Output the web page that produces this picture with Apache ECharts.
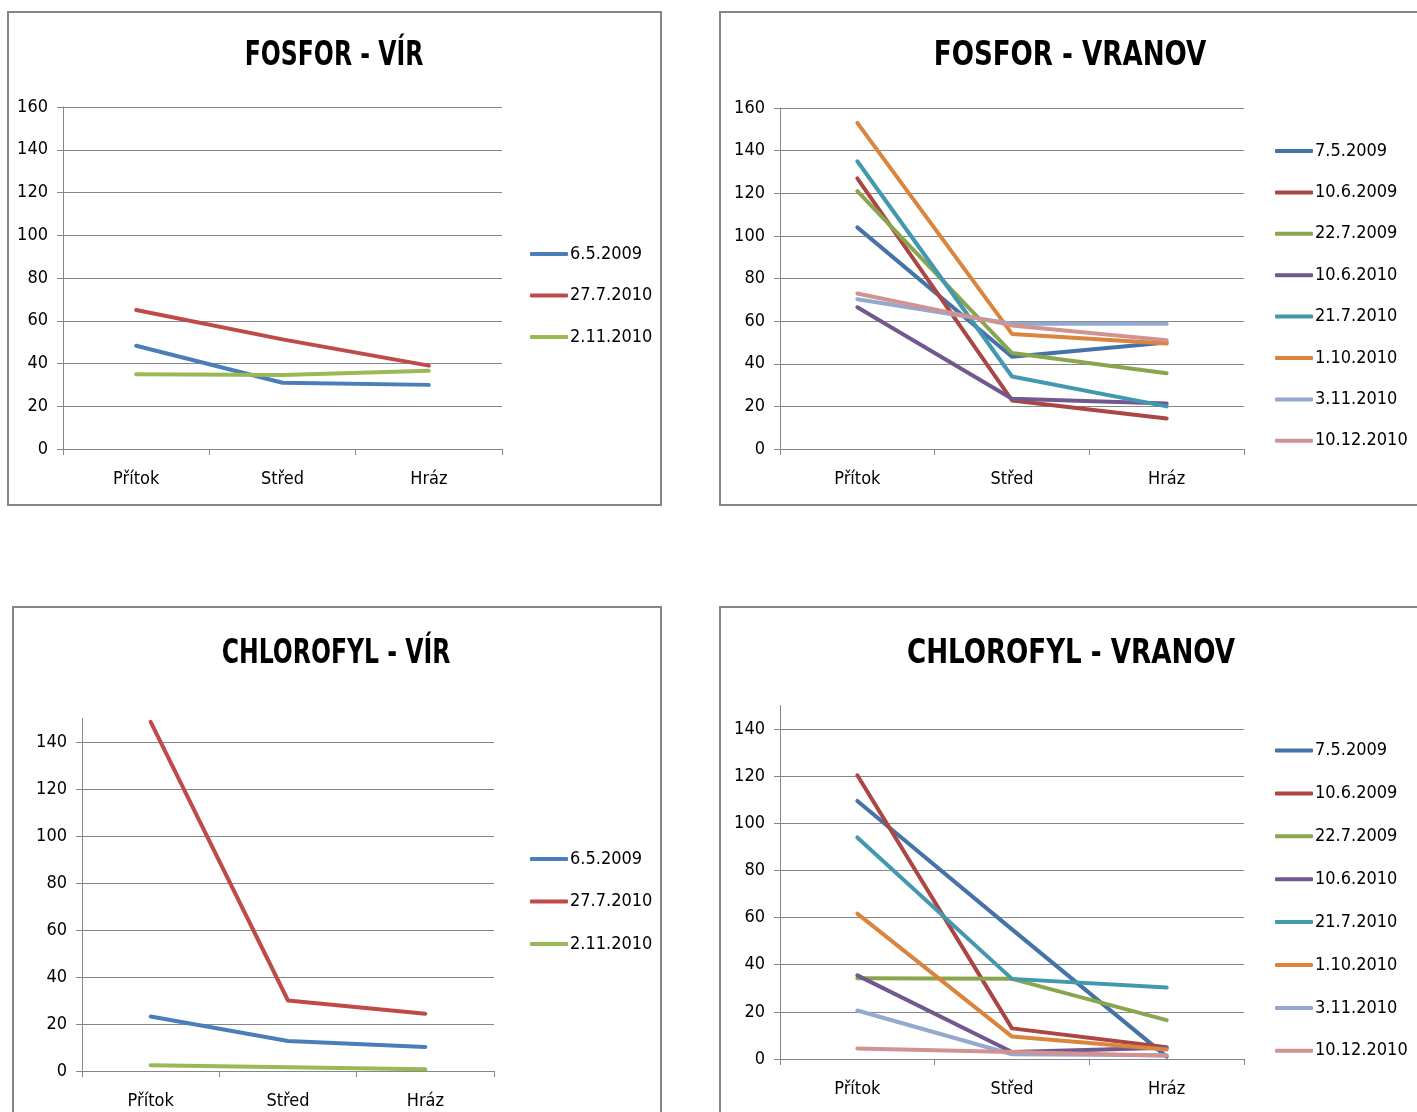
<!DOCTYPE html>
<html>
<head>
<meta charset="utf-8">
<script src="https://cdn.jsdelivr.net/npm/echarts@6/dist/echarts.min.js"></script>
<style>
  html, body { margin: 0; padding: 0; background: #ffffff; }
  #chart { width: 1417px; height: 1112px; }
</style>
</head>
<body>
<div id="chart"></div>
<script>
// Sampling sites along the reservoir
const categories = ['Přítok', 'Střed', 'Hráz'];

// Sampling dates
const virDates = ['6.5.2009', '27.7.2010', '2.11.2010'];
const vranovDates = ['7.5.2009', '10.6.2009', '22.7.2009', '10.6.2010',
                     '21.7.2010', '1.10.2010', '3.11.2010', '10.12.2010'];

// Phosphorus – Vír (one row per date: Přítok, Střed, Hráz)
const fosforVir = [
  [48.3, 31, 30],
  [65, 51.3, 39],
  [35, 34.6, 36.6]
];

// Phosphorus – Vranov
const fosforVranov = [
  [104, 43.3, 50],
  [127, 22.8, 14.3],
  [121, 45, 35.5],
  [66.5, 23.6, 21.3],
  [135, 34, 20],
  [153, 54, 49.5],
  [70.3, 58.8, 58.8],
  [73, 58, 51]
];

// Chlorophyll – Vír
const chlorofylVir = [
  [23.2, 12.8, 10.2],
  [148.6, 30, 24.4],
  [2.4, 1.6, 0.7]
];

// Chlorophyll – Vranov
const chlorofylVranov = [
  [109.5, 55, 1],
  [120.4, 13, 5],
  [34.3, 34, 16.5],
  [35.5, 3, 4.8],
  [94, 34, 30.3],
  [61.7, 9.5, 4],
  [20.6, 2, 1.6],
  [4.5, 3, 1.4]
];

// Value axis ticks
const fosforTicks = [0, 20, 40, 60, 80, 100, 120, 140, 160];
const chlorofylTicks = [0, 20, 40, 60, 80, 100, 120, 140];
const chlorofylMax = 150;

const virColors = ['#4A7EBB', '#BE4B48', '#98B954'];
const vranovColors = ['#4572A7', '#AA4643', '#89A54E', '#71588F',
                      '#4198AF', '#DB843D', '#93A9CF', '#D19392'];

const FONT = '"DejaVu Sans Condensed", "Liberation Sans Narrow", sans-serif';
const GRAY = '#868686';
const LABEL_SIZE = 18;

const panels = [
  { title: 'FOSFOR - VÍR', titleX: 334, titleY: 56, titleScale: 0.77,
    frame: [8, 12, 653, 493],
    grid: { left: 63, top: 107, width: 439, height: 342 },
    legend: { left: 530, top: 244, gap: 21.5 },
    names: virDates, rows: fosforVir, colors: virColors,
    ticks: fosforTicks, max: 160 },
  { title: 'FOSFOR - VRANOV', titleX: 1070, titleY: 56, titleScale: 0.855,
    frame: [720, 12, 720, 493],
    grid: { left: 780, top: 108, width: 464, height: 341 },
    legend: { left: 1275, top: 141, gap: 21.4 },
    names: vranovDates, rows: fosforVranov, colors: vranovColors,
    ticks: fosforTicks, max: 160 },
  { title: 'CHLOROFYL - VÍR', titleX: 336, titleY: 654, titleScale: 0.77,
    frame: [13, 607, 648, 540],
    grid: { left: 82, top: 718.5, width: 412, height: 352.5 },
    legend: { left: 530, top: 849, gap: 22.5 },
    names: virDates, rows: chlorofylVir, colors: virColors,
    ticks: chlorofylTicks, max: chlorofylMax },
  { title: 'CHLOROFYL - VRANOV', titleX: 1071, titleY: 654, titleScale: 0.855,
    frame: [720, 607, 720, 540],
    grid: { left: 780, top: 705.5, width: 464, height: 353.5 },
    legend: { left: 1275, top: 740.5, gap: 22.9 },
    names: vranovDates, rows: chlorofylVranov, colors: vranovColors,
    ticks: chlorofylTicks, max: chlorofylMax }
];

const option = {
  backgroundColor: '#ffffff',
  animation: false,
  grid: [], xAxis: [], yAxis: [], legend: [], series: [], graphic: []
};

panels.forEach((p, i) => {
  // chart frame
  option.graphic.push({
    type: 'rect', silent: true, z: -1,
    shape: { x: p.frame[0], y: p.frame[1], width: p.frame[2], height: p.frame[3] },
    style: { fill: '#ffffff', stroke: GRAY, lineWidth: 2 }
  });
  // chart title, set in a narrow bold face
  option.graphic.push({
    type: 'text', x: p.titleX, y: p.titleY, silent: true,
    scaleX: p.titleScale, scaleY: 1,
    style: { text: p.title, fontFamily: FONT, fontWeight: 'bold', fontSize: 34,
             fill: '#000000', align: 'center', verticalAlign: 'middle' }
  });

  option.grid.push(Object.assign({ containLabel: false }, p.grid));

  option.xAxis.push({
    type: 'category', gridIndex: i, data: categories, boundaryGap: true,
    axisLine: { show: true, lineStyle: { color: GRAY, width: 1 } },
    axisTick: { show: true, length: 6, alignWithLabel: false, lineStyle: { color: GRAY } },
    axisLabel: { color: '#000000', fontFamily: FONT, fontSize: LABEL_SIZE, margin: 21 },
    splitLine: { show: false }
  });

  option.yAxis.push({
    type: 'value', gridIndex: i, min: 0, max: p.max, interval: 20,
    axisLine: { show: true, lineStyle: { color: GRAY, width: 1 } },
    axisTick: { show: true, length: 6, customValues: p.ticks, lineStyle: { color: GRAY } },
    axisLabel: { color: '#000000', fontFamily: FONT, fontSize: LABEL_SIZE, margin: 15,
                 customValues: p.ticks },
    splitLine: { show: true, lineStyle: { color: GRAY, width: 1 } }
  });

  option.legend.push({
    orient: 'vertical', left: p.legend.left, top: p.legend.top,
    itemGap: p.legend.gap, itemWidth: 38, itemHeight: 4, icon: 'roundRect',
    padding: 0, selectedMode: false,
    data: p.names,
    textStyle: { color: '#000000', fontFamily: FONT, fontSize: LABEL_SIZE, lineHeight: 20,
                 padding: [0, 0, 0, -3] }
  });

  p.rows.forEach((row, k) => {
    option.series.push({
      type: 'line', name: p.names[k], xAxisIndex: i, yAxisIndex: i,
      data: row, showSymbol: false, symbol: 'none', smooth: false,
      color: p.colors[k],
      lineStyle: { width: 4, color: p.colors[k], cap: 'round', join: 'round' },
      emphasis: { disabled: true }
    });
  });
});

const chart = echarts.init(document.getElementById('chart'), null, { renderer: 'canvas' });
chart.setOption(option);
</script>
</body>
</html>
